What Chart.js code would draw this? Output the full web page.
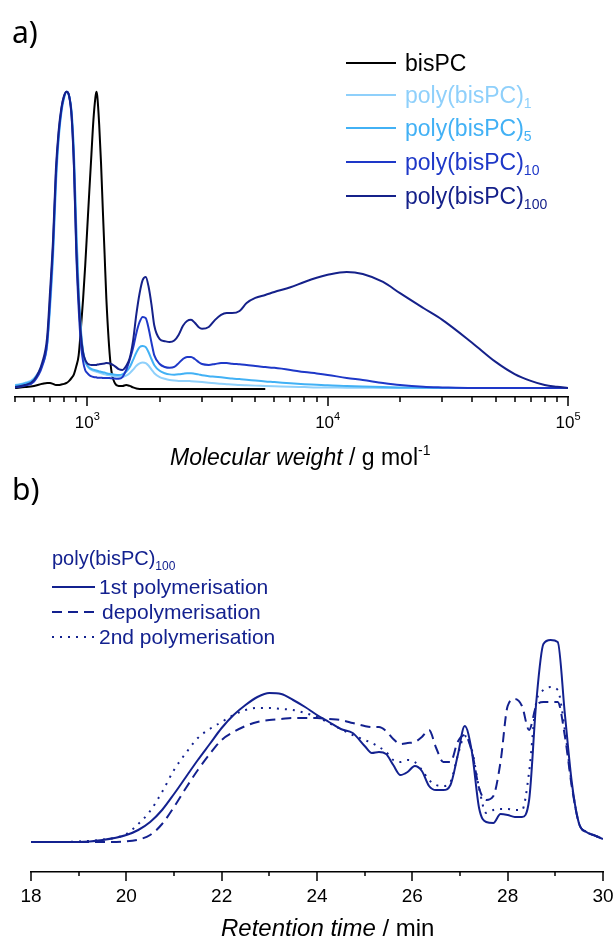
<!DOCTYPE html>
<html>
<head>
<meta charset="utf-8">
<script src="https://cdn.jsdelivr.net/npm/chart.js@4.4.0/dist/chart.umd.min.js"></script>
<style>
  body { margin: 0; background: #fff; }
  #wrapA { position: absolute; left: 0; top: 0; width: 616px; height: 475px; }
  #wrapB { position: absolute; left: 0; top: 475px; width: 616px; height: 466px; }
</style>
</head>
<body>
<div id="wrapA"><canvas id="chartA"></canvas></div>
<div id="wrapB"><canvas id="chartB"></canvas></div>
<script>
// ---- panel a) : molecular weight distributions (normalised) ----
const molWeight = [500,550,600,650,680,700,720,740,760,780,800,820,840,860,880,900,920,940,960,980,
  1000,1020,1040,1060,1080,1090,1100,1120,1140,1160,1180,1200,1250,1300,1350,1400,1450,1500,1550,1600,
  1650,1700,1750,1800,1850,1900,2000,2100,2200,2300,2400,2500,2600,2700,2800,2900,3000,3200,3400,3600,
  3800,4000,4300,4600,5000,5500,6000,7000,8000,9000,10000,12000,14000,17000,20000,25000,30000,40000,50000,60000,
  70000,80000,90000,100000];

const bisPC = [0,0.003,0.007,0.014,0.017,0.017,0.014,0.01,0.01,0.012,0.014,0.017,0.024,0.034,0.047,0.074,0.11,0.2,0.30,0.415,
  0.544,0.67,0.79,0.905,0.98,1.0,0.985,0.89,0.76,0.6,0.45,0.30,0.078,0.017,0.007,0.007,0.01,0.007,0.002,-0.002,
  -0.003,-0.003,-0.003,-0.003,-0.003,-0.003,-0.003,-0.003,-0.003,-0.003,-0.003,-0.003,-0.003,-0.003,-0.003,-0.003,-0.003,-0.003,-0.003,-0.003,
  -0.003,-0.003,-0.003,-0.003,-0.003,-0.003,null,null,null,null,null,null,null,null,null,null,null,null,null,null,
  null,null,null,null];

const poly1 = [0.01,0.017,0.032,0.08,0.14,0.27,0.44,0.68,0.84,0.93,0.98,1.0,0.985,0.935,0.79,0.54,0.34,0.2,0.125,0.09,
  0.074,0.066,0.061,0.058,0.056,0.055,0.054,0.052,0.05,0.048,0.046,0.045,0.042,0.04,0.038,0.038,0.042,0.05,0.062,0.075,
  0.083,0.086,0.084,0.075,0.062,0.05,0.037,0.031,0.027,0.025,0.024,0.024,0.024,0.023,0.022,0.021,0.02,0.018,0.016,0.014,
  0.013,0.012,0.01,0.009,0.008,0.007,0.006,0.004,0.003,0.002,0.002,0.001,0.001,0,0,0,0,0,0,0,
  0,0,0,0];

const poly5 = [0.008,0.015,0.03,0.08,0.15,0.29,0.46,0.70,0.85,0.935,0.98,1.0,0.985,0.93,0.78,0.52,0.32,0.19,0.12,0.09,
  0.075,0.068,0.064,0.062,0.06,0.059,0.058,0.056,0.055,0.053,0.052,0.05,0.047,0.045,0.044,0.046,0.055,0.07,0.095,0.12,
  0.138,0.142,0.138,0.12,0.097,0.077,0.058,0.05,0.046,0.045,0.046,0.048,0.05,0.05,0.048,0.046,0.043,0.04,0.038,0.036,
  0.034,0.032,0.03,0.028,0.025,0.022,0.02,0.016,0.013,0.011,0.009,0.007,0.005,0.003,0.002,0.001,0,0,0,0,
  0,0,0,0];

const poly10 = [0.002,0.008,0.022,0.075,0.15,0.30,0.48,0.72,0.86,0.94,0.985,1.0,0.985,0.915,0.74,0.45,0.27,0.15,0.09,0.06,
  0.05,0.043,0.039,0.037,0.036,0.036,0.035,0.035,0.035,0.034,0.034,0.034,0.033,0.032,0.031,0.037,0.06,0.095,0.135,0.186,
  0.223,0.24,0.236,0.2,0.152,0.11,0.081,0.071,0.068,0.071,0.084,0.098,0.105,0.105,0.098,0.088,0.081,0.078,0.081,0.084,
  0.084,0.082,0.08,0.078,0.074,0.071,0.068,0.061,0.054,0.049,0.044,0.034,0.027,0.017,0.01,0.004,0.002,0,0,0,
  0,0,0,0];

const poly100 = [0.003,0.01,0.027,0.088,0.17,0.33,0.50,0.74,0.87,0.946,0.986,1.0,0.986,0.92,0.75,0.47,0.30,0.18,0.12,0.095,
  0.083,0.079,0.078,0.078,0.078,0.078,0.079,0.08,0.081,0.082,0.083,0.084,0.082,0.074,0.064,0.061,0.074,0.10,0.16,0.25,
  0.32,0.365,0.375,0.34,0.28,0.21,0.165,0.158,0.155,0.16,0.18,0.21,0.226,0.23,0.22,0.206,0.2,0.206,0.23,0.247,
  0.253,0.253,0.26,0.287,0.304,0.314,0.324,0.34,0.358,0.372,0.382,0.392,0.385,0.358,0.32,0.27,0.23,0.152,0.088,0.047,
  0.024,0.01,0.004,0];

const seriesA = ['bisPC', 'poly(bisPC)', 'poly(bisPC)', 'poly(bisPC)', 'poly(bisPC)'];
const seriesASub = ['', '1', '5', '10', '100'];
const mwTicks = [500,600,700,800,900,1000,2000,3000,4000,5000,6000,7000,8000,9000,
  10000,20000,30000,40000,50000,60000,70000,80000,90000,100000];
const mwMajor = [1000, 10000, 100000];
const mwExp = ['3', '4', '5'];

// ---- panel b) : retention time traces of poly(bisPC)100 ----
const retTime = [18,18.5,19,19.5,20,20.25,20.5,20.75,21,21.25,21.5,21.75,22,22.25,22.5,22.75,23,23.25,23.5,23.75,
  24,24.25,24.5,24.75,25,25.15,25.3,25.45,25.6,25.75,25.9,26.05,26.2,26.35,26.5,26.65,26.8,26.95,27.1,27.25,
  27.4,27.55,27.7,27.85,28,28.15,28.3,28.45,28.6,28.75,28.9,29.05,29.2,29.35,29.5,29.65,29.8,30];

const firstPoly = [0,0,0,0.01,0.035,0.06,0.10,0.16,0.24,0.325,0.41,0.49,0.57,0.635,0.685,0.725,0.745,0.74,0.71,0.675,
  0.635,0.60,0.565,0.545,0.48,0.445,0.45,0.44,0.385,0.335,0.35,0.38,0.355,0.28,0.26,0.26,0.285,0.43,0.58,0.45,
  0.17,0.10,0.095,0.14,0.135,0.125,0.125,0.21,0.70,0.99,1.01,1.0,0.64,0.29,0.09,0.05,0.035,0.015];

const depoly = [0,0,0,0,0.003,0.012,0.035,0.09,0.175,0.27,0.36,0.44,0.51,0.55,0.58,0.60,0.61,0.615,0.62,0.62,
  0.62,0.615,0.61,0.595,0.58,0.575,0.575,0.555,0.515,0.49,0.495,0.50,0.525,0.56,0.47,0.40,0.40,0.50,0.535,0.45,
  0.27,0.21,0.23,0.40,0.68,0.715,0.68,0.56,0.68,0.70,0.70,0.70,0.53,0.27,0.09,0.05,0.035,0.015];

const secondPoly = [0,0,0.003,0.012,0.04,0.09,0.155,0.25,0.36,0.445,0.52,0.565,0.60,0.635,0.66,0.67,0.67,0.665,0.66,0.645,
  0.625,0.595,0.565,0.535,0.51,0.495,0.475,0.45,0.41,0.40,0.41,0.40,0.36,0.31,0.285,0.28,0.30,0.43,0.53,0.46,
  0.27,0.145,0.16,0.165,0.165,0.16,0.16,0.35,0.70,0.76,0.775,0.76,0.56,0.28,0.09,0.05,0.035,0.015];

const seriesB = ['1st polymerisation', 'depolymerisation', '2nd polymerisation'];
const rtTicks = [18,19,20,21,22,23,24,25,26,27,28,29,30];
const rtLabels = [18,20,22,24,26,28,30];

const SANS = '"Liberation Sans", Arial, sans-serif';
const colorsA = ['#000000', '#8fd0fb', '#42b1f5', '#1e38c8', '#15218a'];
const navy = '#13218f';
const dashesB = [[], [10, 6], [2, 6]];

function toPoints(xs, ys) {
  return xs.map((x, i) => ({ x: x, y: ys[i] }));
}

// text with a raised or lowered small part
function drawParts(ctx, x, y, parts) {
  parts.forEach(p => {
    ctx.font = p.font;
    ctx.fillText(p.text, x, y + (p.dy || 0));
    x += ctx.measureText(p.text).width;
  });
  return x;
}

const panelA = {
  id: 'panelA',
  afterDraw(chart) {
    const ctx = chart.ctx;
    const sx = chart.scales.x;
    const base = chart.chartArea.bottom;
    ctx.save();
    // ticks
    ctx.strokeStyle = '#000';
    ctx.lineWidth = 1.5;
    mwTicks.forEach(v => {
      const px = Math.round(sx.getPixelForValue(v));
      const len = mwMajor.includes(v) ? 9 : 5;
      ctx.beginPath();
      ctx.moveTo(px, base);
      ctx.lineTo(px, base + len);
      ctx.stroke();
    });
    // tick labels 10^n
    ctx.fillStyle = '#000';
    ctx.textBaseline = 'alphabetic';
    mwMajor.forEach((v, i) => {
      const px = sx.getPixelForValue(v);
      ctx.font = '17px ' + SANS;
      const w1 = ctx.measureText('10').width;
      ctx.font = '11px ' + SANS;
      const w2 = ctx.measureText(mwExp[i]).width;
      drawParts(ctx, px - (w1 + w2) / 2, 428, [
        { text: '10', font: '17px ' + SANS },
        { text: mwExp[i], font: '11px ' + SANS, dy: -8 }
      ]);
    });
    // axis title
    drawParts(ctx, 170, 465, [
      { text: 'Molecular weight', font: 'italic 23px ' + SANS },
      { text: ' / g mol', font: '23px ' + SANS },
      { text: '-1', font: '14px ' + SANS, dy: -10 }
    ]);
    // panel letter
    ctx.font = '30px "Noto Sans", sans-serif';
    ctx.fillText('a)', 12, 43);
    // legend
    const rowY = [63, 95, 128, 162, 196];
    chart.data.datasets.forEach((ds, i) => {
      ctx.strokeStyle = ds.borderColor;
      ctx.lineWidth = 2;
      ctx.beginPath();
      ctx.moveTo(346, rowY[i]);
      ctx.lineTo(396, rowY[i]);
      ctx.stroke();
      ctx.fillStyle = ds.borderColor;
      drawParts(ctx, 405, rowY[i] + 8, [
        { text: seriesA[i], font: '23px ' + SANS },
        { text: seriesASub[i], font: '14px ' + SANS, dy: 5 }
      ]);
    });
    ctx.restore();
  }
};

const panelB = {
  id: 'panelB',
  afterDraw(chart) {
    const ctx = chart.ctx;
    const sx = chart.scales.x;
    const base = chart.chartArea.bottom;
    ctx.save();
    ctx.strokeStyle = '#000';
    ctx.lineWidth = 1.5;
    rtTicks.forEach(v => {
      const px = Math.round(sx.getPixelForValue(v));
      const len = rtLabels.includes(v) ? 9 : 4;
      ctx.beginPath();
      ctx.moveTo(px, base);
      ctx.lineTo(px, base + len);
      ctx.stroke();
    });
    ctx.fillStyle = '#000';
    ctx.textAlign = 'center';
    ctx.font = '19px ' + SANS;
    rtLabels.forEach(v => {
      ctx.fillText(String(v), sx.getPixelForValue(v), 427);
    });
    ctx.textAlign = 'left';
    drawParts(ctx, 221, 461, [
      { text: 'Retention time', font: 'italic 24px ' + SANS },
      { text: ' / min', font: '24px ' + SANS }
    ]);
    ctx.font = '30px "Noto Sans", sans-serif';
    ctx.fillText('b)', 12, 25);
    // legend
    ctx.fillStyle = navy;
    drawParts(ctx, 52, 90, [
      { text: 'poly(bisPC)', font: '20px ' + SANS },
      { text: '100', font: '12px ' + SANS, dy: 5 }
    ]);
    const rowY = [112, 137, 162];
    chart.data.datasets.forEach((ds, i) => {
      ctx.strokeStyle = ds.borderColor;
      ctx.lineWidth = 2;
      ctx.setLineDash(ds.borderDash || []);
      ctx.beginPath();
      ctx.moveTo(52, rowY[i]);
      ctx.lineTo(95, rowY[i]);
      ctx.stroke();
      ctx.setLineDash([]);
      ctx.fillStyle = navy;
      ctx.font = '21px ' + SANS;
      ctx.fillText(seriesB[i], i === 1 ? 102 : 99, rowY[i] + 7);
    });
    ctx.restore();
  }
};

new Chart(document.getElementById('chartA'), {
  type: 'line',
  data: {
    datasets: [bisPC, poly1, poly5, poly10, poly100].map((ys, i) => ({
      label: seriesA[i] + seriesASub[i],
      data: toPoints(molWeight, ys),
      borderColor: colorsA[i],
      borderWidth: 2,
      pointRadius: 0,
      fill: false,
      cubicInterpolationMode: 'monotone',
      order: 4 - i
    }))
  },
  options: {
    responsive: true,
    maintainAspectRatio: false,
    animation: false,
    devicePixelRatio: 1,
    layout: { padding: { left: 15, right: 48, top: 74, bottom: 78 } },
    plugins: { legend: { display: false }, tooltip: { enabled: false } },
    scales: {
      x: {
        type: 'logarithmic',
        min: 500,
        max: 100000,
        ticks: { display: false },
        grid: { display: false, drawTicks: false },
        border: { display: true, color: '#000', width: 1.5 }
      },
      y: { display: false, min: -0.0304, max: 1.06 }
    }
  },
  plugins: [panelA]
});

new Chart(document.getElementById('chartB'), {
  type: 'line',
  data: {
    datasets: [firstPoly, depoly, secondPoly].map((ys, i) => ({
      label: seriesB[i],
      data: toPoints(retTime, ys),
      borderColor: navy,
      borderWidth: 2,
      borderDash: dashesB[i],
      pointRadius: 0,
      fill: false,
      cubicInterpolationMode: 'monotone'
    }))
  },
  options: {
    responsive: true,
    maintainAspectRatio: false,
    animation: false,
    devicePixelRatio: 1,
    layout: { padding: { left: 31, right: 13, top: 147, bottom: 69 } },
    plugins: { legend: { display: false }, tooltip: { enabled: false } },
    scales: {
      x: {
        type: 'linear',
        min: 18,
        max: 30,
        ticks: { display: false },
        grid: { display: false, drawTicks: false },
        border: { display: true, color: '#000', width: 1.5 }
      },
      y: { display: false, min: -0.15, max: 1.1 }
    }
  },
  plugins: [panelB]
});
</script>
</body>
</html>
